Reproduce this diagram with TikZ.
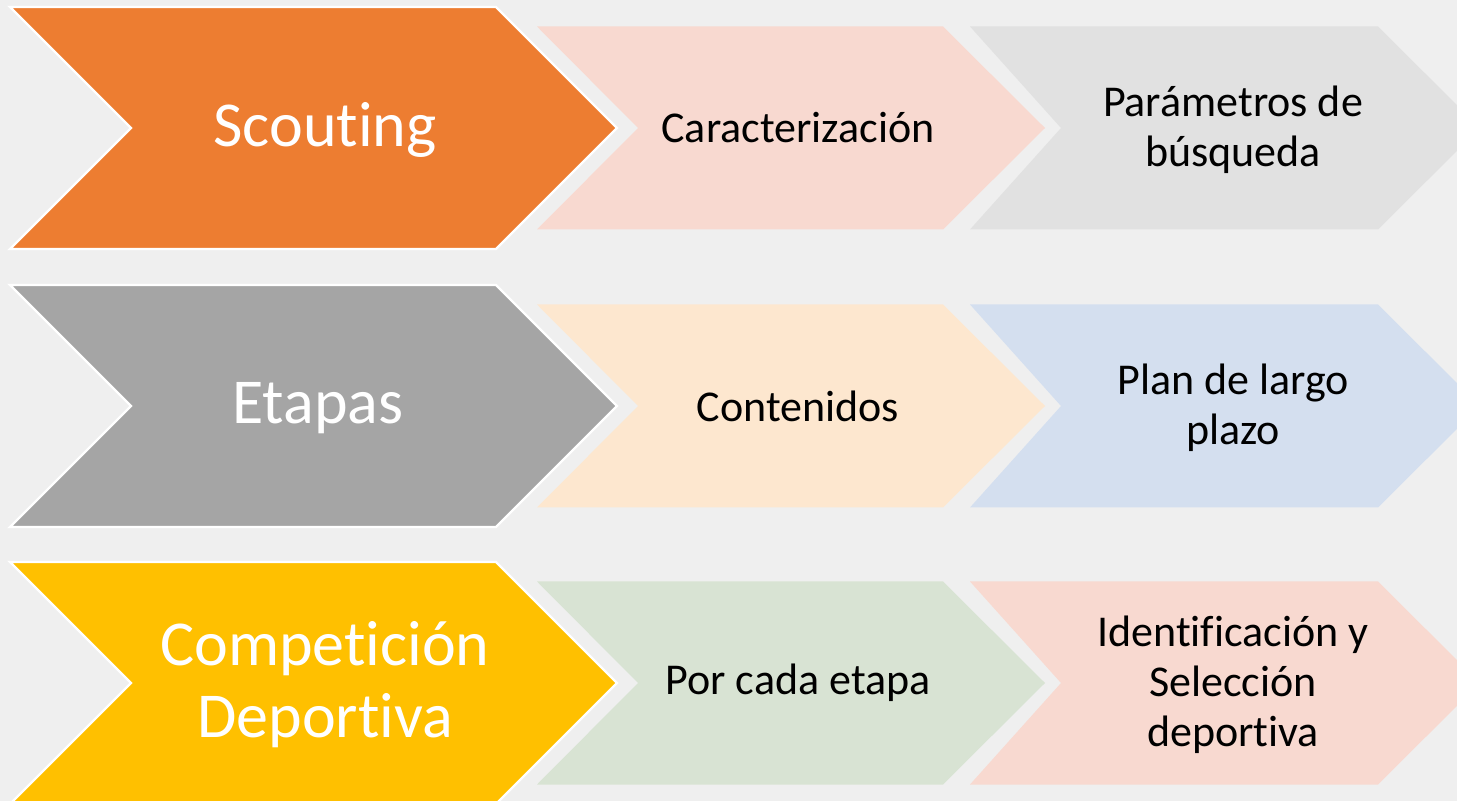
\documentclass[tikz,border=0pt]{standalone}
\usepackage{fontspec}
\setmainfont{Carlito}[Ligatures={NoCommon}]
\usepackage{tikz}
\usetikzlibrary{shapes}

\definecolor{fondo}{HTML}{EFEFEF}
\definecolor{naranja}{HTML}{ED7D31}
\definecolor{gris}{HTML}{A5A5A5}
\definecolor{amarillo}{HTML}{FFC000}
\definecolor{rosa}{HTML}{F8D9D0}
\definecolor{grisclaro}{HTML}{E1E1E1}
\definecolor{crema}{HTML}{FDE7CF}
\definecolor{azulclaro}{HTML}{D4DFEF}
\definecolor{verdeclaro}{HTML}{D8E3D3}

% chevron: style, left, notch, corner, tip, centre y, half height
\newcommand{\Chevron}[7]{%
  \path[#1] (#2,#6-#7) -- (#4,#6-#7) -- (#5,#6) -- (#4,#6+#7)
    -- (#2,#6+#7) -- (#3,#6) -- cycle;}

\tikzset{
  grande/.style={draw=white, line width=1.2pt, line join=miter},
  titulo/.style={text=white, align=center, font=\fontsize{32}{36}\selectfont},
  texto/.style={text=black, align=center, font=\fontsize{22}{25}\selectfont}
}

\begin{document}
\begin{tikzpicture}[x=0.5pt, y=-0.5pt]
        \path[use as bounding box, fill=fondo] (0,0) rectangle (1457,801);
        \clip (0,0) rectangle (1457,801);
        %fila 1
        \Chevron{grande, fill=naranja}{10}{131}{496}{617}{128}{121}
        \Chevron{fill=rosa}{537}{638}{943}{1045}{128}{101.5}
        \Chevron{fill=grisclaro}{970}{1061}{1378}{1480}{128}{101.5}
        \node[titulo] (scouting) at (325,130) {Scouting};
        \node[texto] (carac) at (798,128) {Caracterización};
        \node[texto] (param) at (1233,130) {Parámetros de\\búsqueda};
        %fila 2
        \Chevron{grande, fill=gris}{10}{131}{496}{617}{406}{121}
        \Chevron{fill=crema}{537}{638}{943}{1045}{406}{101.5}
        \Chevron{fill=azulclaro}{970}{1061}{1378}{1480}{406}{101.5}
        \node[titulo] (etapas) at (318,408) {Etapas};
        \node[texto] (conten) at (798,406) {Contenidos};
        \node[texto] (plan) at (1233,408) {Plan de largo\\plazo};
        %fila 3
        \Chevron{grande, fill=amarillo}{10}{131}{496}{617}{683}{121}
        \Chevron{fill=verdeclaro}{537}{638}{943}{1045}{683}{101.5}
        \Chevron{fill=rosa}{970}{1061}{1378}{1480}{683}{101.5}
        \node[titulo] (compet) at (325,685) {Competición\\Deportiva};
        \node[texto] (porcada) at (798,683) {Por cada etapa};
        \node[texto] (ident) at (1233,685) {Identificación y\\Selección\\deportiva};
    \end{tikzpicture}
\end{document}
